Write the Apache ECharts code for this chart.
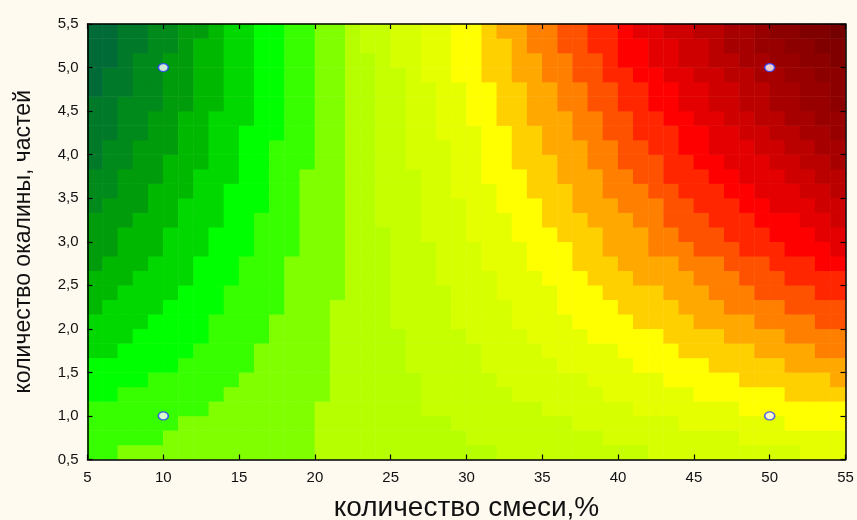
<!DOCTYPE html>
<html><head><meta charset="utf-8">
<script src="https://cdn.jsdelivr.net/npm/echarts@6/dist/echarts.min.js"></script>
<style>html,body{margin:0;padding:0;background:#fffaf0}#c{width:857px;height:520px}</style>
</head><body><div id="c"></div>
<script>
// sampling cells of the contour map: 50 columns (x, % mixture) x 30 rows (y, scale parts)
const xCenters = [5.5,6.5,7.5,8.5,9.5,10.5,11.5,12.5,13.5,14.5,15.5,16.5,17.5,18.5,19.5,20.5,21.5,22.5,23.5,24.5,
  25.5,26.5,27.5,28.5,29.5,30.5,31.5,32.5,33.5,34.5,35.5,36.5,37.5,38.5,39.5,40.5,41.5,42.5,43.5,44.5,
  45.5,46.5,47.5,48.5,49.5,50.5,51.5,52.5,53.5,54.5];
const yCenters = [0.583,0.750,0.917,1.083,1.250,1.417,1.583,1.750,1.917,2.083,2.250,2.417,2.583,2.750,2.917,
  3.083,3.250,3.417,3.583,3.750,3.917,4.083,4.250,4.417,4.583,4.750,4.917,5.083,5.250,5.417];
// contour band read along each row (bottom row first): [band of first cell, widths in cells of successive bands]
const bandRuns = [
  [8, [2,13,12,10,10,3]],
  [8, [5,10,10,9,9,7]],
  [8, [6,9,9,8,7,7,4]],
  [8, [8,7,7,8,6,7,7]],
  [7, [2,7,7,6,6,6,6,6,4]],
  [7, [4,6,6,6,5,6,5,5,6,1]],
  [7, [6,5,5,5,5,5,5,5,5,4]],
  [6, [2,5,4,5,5,5,4,5,4,5,4,2]],
  [6, [3,5,4,4,5,4,4,4,5,4,4,4]],
  [6, [4,4,4,4,4,4,4,4,4,4,4,4,2]],
  [5, [1,4,4,4,3,4,4,4,3,4,4,3,4,4]],
  [5, [2,4,3,4,4,3,4,3,4,3,4,3,3,4,2]],
  [5, [3,4,3,3,4,3,3,4,3,3,3,4,3,3,4]],
  [4, [1,3,3,3,3,4,3,3,3,3,3,3,4,3,3,3,2]],
  [4, [2,3,3,3,3,3,3,3,3,3,3,2,3,3,3,3,3,1]],
  [4, [2,3,3,3,3,3,3,2,3,3,3,3,3,2,3,3,3,2]],
  [4, [3,3,3,2,3,3,2,3,3,3,2,3,3,2,3,3,3,2,1]],
  [3, [1,3,2,3,3,2,3,2,3,3,2,3,2,3,3,2,3,2,3,2]],
  [3, [2,2,3,2,3,2,3,2,3,2,3,2,3,2,3,2,3,2,3,2,1]],
  [3, [2,3,2,3,2,2,3,2,3,2,2,3,2,3,2,2,3,2,3,2,2]],
  [2, [1,2,2,3,2,2,3,2,2,2,3,2,2,3,2,2,3,2,2,3,2,2,1]],
  [2, [1,2,3,2,2,2,3,2,2,2,3,2,2,2,3,2,2,2,2,3,2,2,2]],
  [2, [2,2,2,2,2,3,2,2,2,2,2,3,2,2,2,2,2,3,2,2,2,2,2,1]],
  [2, [2,2,2,2,3,2,2,2,2,2,2,2,2,2,3,2,2,2,2,2,2,2,2,2]],
  [2, [2,3,2,2,2,2,2,2,2,2,2,2,2,2,2,2,2,2,2,2,2,2,2,2,1]],
  [1, [1,2,2,2,2,2,2,2,2,2,2,2,2,2,2,2,2,2,2,2,2,2,2,2,2,1]],
  [1, [1,2,2,2,2,2,2,2,2,2,2,1,2,2,2,2,2,2,2,2,2,2,2,2,2,2]],
  [1, [2,1,2,2,2,2,2,2,2,2,1,2,2,2,2,2,2,2,1,2,2,2,2,2,2,2,1]],
  [1, [2,2,2,1,2,2,2,2,2,1,2,2,2,2,2,1,2,2,2,2,2,2,1,2,2,2,2]],
  [1, [2,2,2,2,1,2,2,2,2,1,2,2,2,2,1,2,2,2,2,1,2,2,2,2,1,2,2,1]]
];
// experimental design points
const designX = [10, 10, 50, 50];
const designY = [1, 5, 1, 5];
// axis ticks
const xTickValues = [5,10,15,20,25,30,35,40,45,50,55];
const yTickValues = [0.5,1.0,1.5,2.0,2.5,3.0,3.5,4.0,4.5,5.0,5.5];
// band colours, lowest level first
const bandColors = ['#005c44','#006b36','#007a29','#008a1b','#009c0b','#00b800','#00d800','#00ff00',
 '#38ff00','#80ff00','#b5ff00','#c6ff00','#d6ff00','#e6ff00','#ffff00','#ffd000','#ffa800','#ff8000',
 '#ff5200','#ff2600','#ff0000','#e40000','#cf0000','#bb0000','#a70000','#980000','#8c0000','#800000','#740000'];

const heatData = [];
bandRuns.forEach(([first, runs], j) => {
  let col = 0;
  runs.forEach((w, r) => { for (let n = 0; n < w; n++) heatData.push([col++, j, first + r]); });
});
const pieces = bandColors.map((c, k) => ({value: k, color: c}));
const FONT = '"Liberation Sans", Arial, sans-serif';
const gridPos = {left: 87.5, right: 11.5, top: 24, bottom: 60.5, outerBoundsMode: 'none', containLabel: false};
const frameLine = {show: true, onZero: false, lineStyle: {color: '#000', width: 1.5}};
const tick = {show: true, inside: true, length: 5, lineStyle: {color: '#000', width: 1.2}};

const chart = echarts.init(document.getElementById('c'), null, {renderer: 'canvas'});
chart.setOption({
  backgroundColor: '#fffaf0',
  animation: false,
  grid: [Object.assign({}, gridPos), Object.assign({}, gridPos)],
  visualMap: {type: 'piecewise', show: false, dimension: 2, seriesIndex: 0, pieces: pieces},
  xAxis: [
    {type: 'category', gridIndex: 0, data: xCenters, show: false},
    {type: 'value', gridIndex: 1, position: 'bottom', min: xTickValues[0], max: xTickValues[xTickValues.length-1],
     interval: xTickValues[1] - xTickValues[0], z: 10, axisLine: frameLine, axisTick: tick, splitLine: {show: false},
     axisLabel: {color: '#111', fontSize: 15, margin: 11, fontFamily: FONT},
     name: 'количество смеси,%', nameLocation: 'middle', nameGap: 35,
     nameTextStyle: {fontSize: 28, color: '#111', fontFamily: FONT}},
    {type: 'value', gridIndex: 1, position: 'top', min: xTickValues[0], max: xTickValues[xTickValues.length-1],
     interval: xTickValues[1] - xTickValues[0], z: 10, axisLine: frameLine, axisTick: tick, splitLine: {show: false},
     axisLabel: {show: false}}
  ],
  yAxis: [
    {type: 'category', gridIndex: 0, data: yCenters, show: false},
    {type: 'value', gridIndex: 1, position: 'left', min: yTickValues[0], max: yTickValues[yTickValues.length-1],
     interval: yTickValues[1] - yTickValues[0], z: 10, axisLine: frameLine, axisTick: tick, splitLine: {show: false},
     axisLabel: {color: '#111', fontSize: 15, margin: 9, fontFamily: FONT,
       formatter: v => v.toFixed(1).replace('.', ',')},
     name: 'количество окалины, частей', nameLocation: 'middle', nameGap: 52,
     nameTextStyle: {fontSize: 23, color: '#111', fontFamily: FONT}},
    {type: 'value', gridIndex: 1, position: 'right', min: yTickValues[0], max: yTickValues[yTickValues.length-1],
     interval: yTickValues[1] - yTickValues[0], z: 10, axisLine: frameLine, axisTick: tick, splitLine: {show: false},
     axisLabel: {show: false}}
  ],
  series: [
    {type: 'heatmap', xAxisIndex: 0, yAxisIndex: 0, data: heatData, itemStyle: {borderWidth: 0}, emphasis: {disabled: true}},
    {type: 'scatter', xAxisIndex: 1, yAxisIndex: 1, z: 20, symbol: 'circle', symbolSize: [10, 8],
     itemStyle: {color: '#ffffff', borderColor: '#2a3cff', borderWidth: 1.5},
     data: designX.map((x, i) => [x, designY[i]])}
  ]
});
</script></body></html>
